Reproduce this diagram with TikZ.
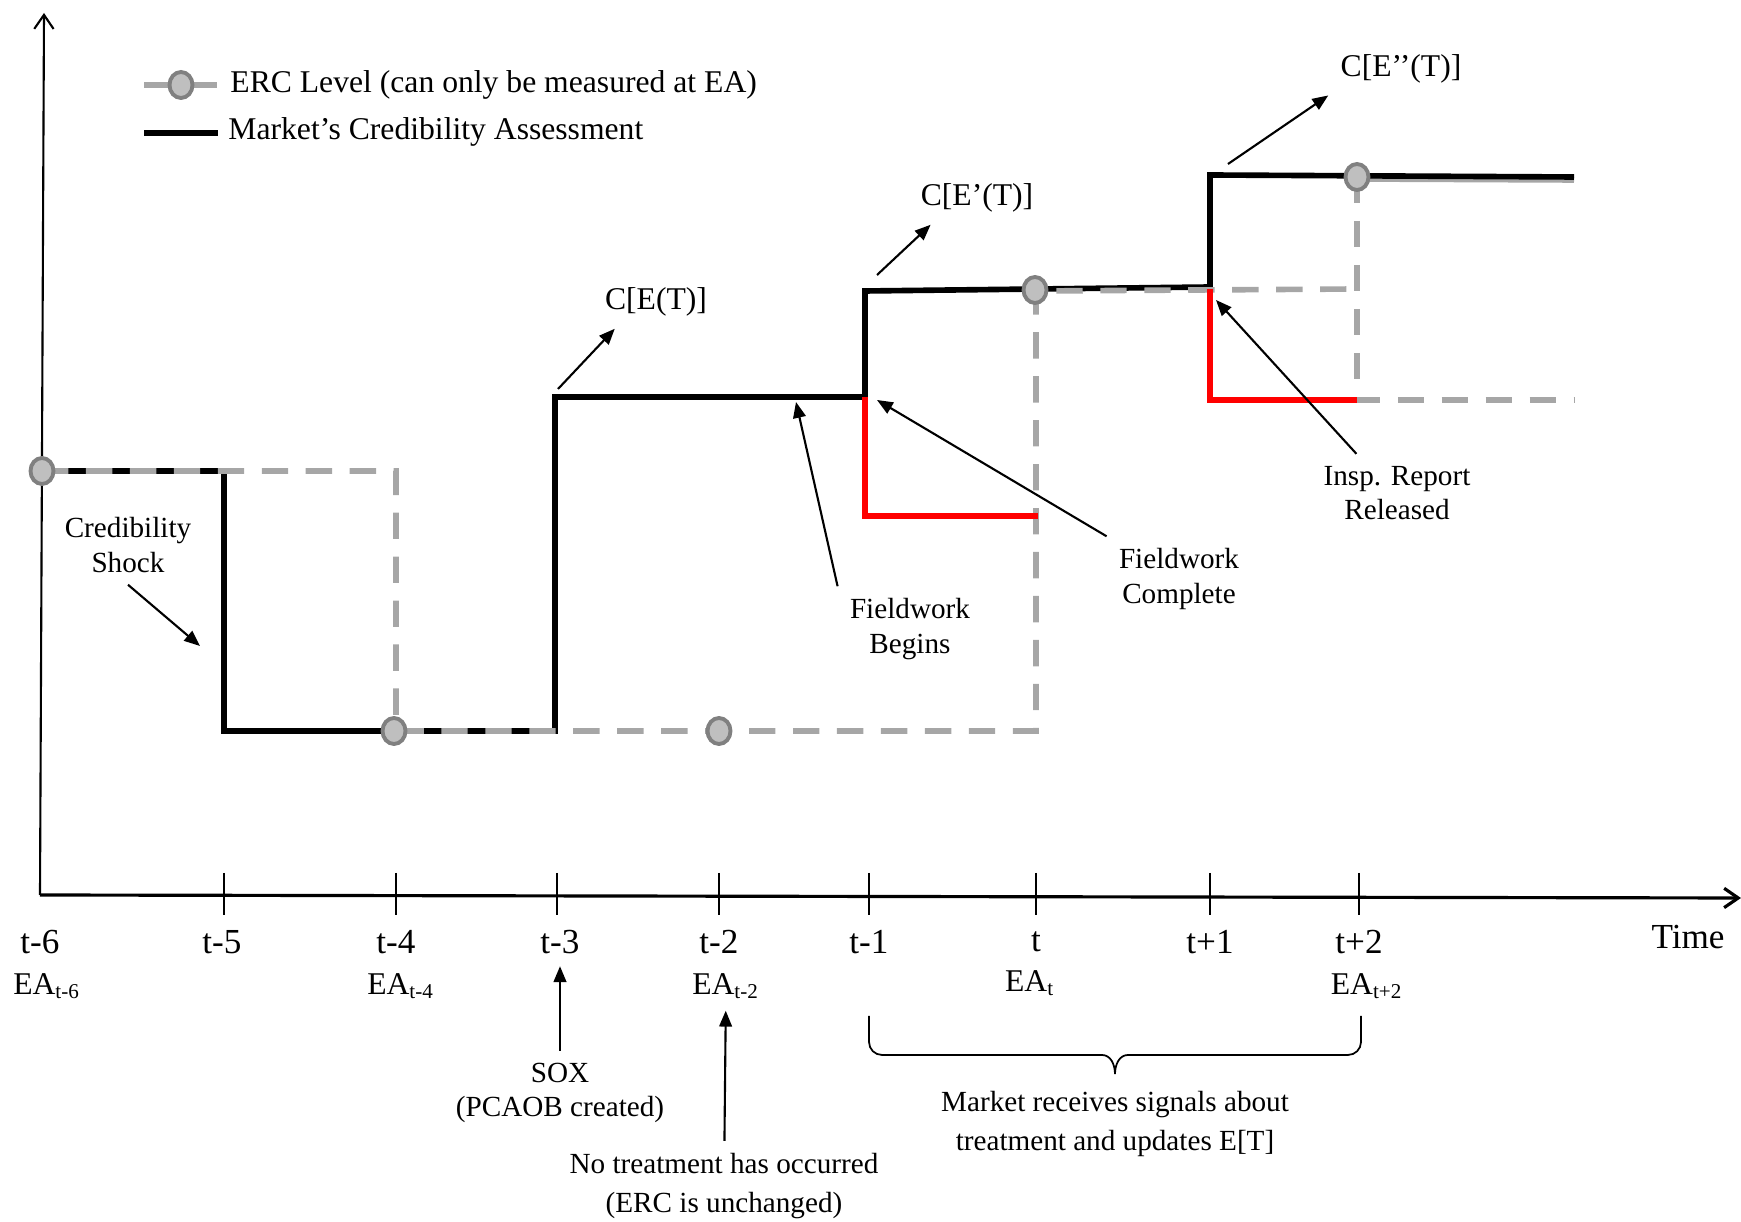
\documentclass[tikz,border=0pt]{standalone}
\usepackage{fontspec}
\setmainfont{Liberation Serif}
\usetikzlibrary{arrows.meta,shapes.geometric}
\definecolor{ercgray}{RGB}{166,166,166}
\definecolor{ercfill}{RGB}{191,191,191}
\definecolor{ercedge}{RGB}{128,128,128}
\definecolor{signalred}{RGB}{255,0,0}
\newcommand{\ea}[1]{EA\textsubscript{#1}}

\begin{document}
\begin{tikzpicture}[x=0.01cm, y=-0.01cm,
        axis/.style={line width=0.6pt,-{Straight Barb[length=4pt,width=5.5pt]}},
        tickmark/.style={line width=0.7pt},
        mkt/.style={line width=1.6pt},
        erc/.style={draw=ercgray,line width=1.6pt,dash pattern=on 7.5pt off 5pt},
        shiftline/.style={draw=signalred,line width=1.6pt},
        ercdot/.style={ellipse,draw=ercedge,fill=ercfill,line width=1.1pt,
          minimum width=0.23cm,minimum height=0.26cm,inner sep=0pt},
        note/.style={-{Triangle[length=4.5pt,width=3.6pt]},line width=0.6pt},
        lbl/.style={font=\fontsize{8.3}{9.7}\selectfont,align=center},
        lblwide/.style={font=\fontsize{8.3}{11}\selectfont,align=center},
        big/.style={font=\fontsize{9}{11}\selectfont},
        ticklbl/.style={font=\fontsize{10}{12}\selectfont}]
        \useasboundingbox (0,0) rectangle (1741,1222);
        \coordinate (origin) at (40,895);
        \coordinate (ytop) at (44,13);
        \coordinate (xend) at (1741,898);
        \draw[axis] (origin) -- (ytop);
        \draw[axis,line width=0.9pt] (origin) -- (xend);
        \foreach \x in {224,396,557,719,869,1036,1210,1359}
          \draw[tickmark] (\x,873) -- (\x,915);
        \foreach \x/\n/\s in {40/m6/t-6,222/m5/t-5,396/m4/t-4,560/m3/t-3,719/m2/t-2,
            869/m1/t-1,1036/z/t,1210/p1/t+1,1359/p2/t+2}
          \node[ticklbl] (l\n) at (\x,942) {\s};
        \node[ticklbl] (time) at (1688,937) {Time};
        \node[big] (eam6) at (47,986) {\ea{t-6}};
        \node[big] (eam4) at (401,986) {\ea{t-4}};
        \node[big] (eam2) at (726,986) {\ea{t-2}};
        \node[big] (eaz) at (1030,983) {\ea{t}};
        \node[big] (eap2) at (1367,986) {\ea{t+2}};

        \draw[draw=ercgray,line width=1.7pt] (144,85) -- (217,85);
        \node[ercdot] (legdot) at (181,85) {};
        \node[big,anchor=west] (legerc) at (218,85) {ERC Level (can only be measured at EA)};
        \draw[line width=1.8pt] (144,133) -- (218,133);
        \node[big,anchor=west] (legmkt) at (216,132) {Market’s Credibility Assessment};

        \draw[draw=ercgray,line width=1.6pt] (1357,179) -- (1574,180);
        \draw[mkt] (42,471) -- (224,471) -- (224,731) -- (555,731) -- (555,397)
          -- (865,397) -- (865,291) -- (1210,287) -- (1210,175) -- (1574,177);
        \draw[erc] (42,471) -- (396,471) -- (396,731) -- (1036,731) -- (1036,291) -- (1357,289);
        \draw[erc] (1357,177) -- (1357,400) -- (1574,400);
        \draw[shiftline] (865,397) -- (865,516) -- (1038,516);
        \draw[shiftline] (1210,289) -- (1210,400) -- (1357,400);
        \foreach \x/\y/\n in {42/471/m6,394/731/m4,719/731/m2,1035/290/z,1357/177/p2}
          \node[ercdot] (d\n) at (\x,\y) {};

        \node[big] (cet) at (656,302) {C[E(T)]};
        \node[big] (cep) at (977,198) {C[E’(T)]};
        \node[big] (cepp) at (1401,69) {C[E’’(T)]};
        \coordinate (cet-tail) at (558,389);
        \coordinate (cep-tail) at (877,275);
        \coordinate (cepp-tail) at (1228,164);
        \draw[note] (cet-tail) -- (cet.-147);
        \draw[note] (cep-tail) -- (cep.-150);
        \draw[note] (cepp-tail) -- (cepp.-160);

        \node[lbl] (shock) at (128,545) {Credibility\\Shock};
        \node[lbl] (fwb) at (910,629) {Fieldwork\\Begins};
        \node[lbl] (fwc) at (1179,579) {Fieldwork\\Complete};
        \node[lbl] (insp) at (1397,493) {Insp. Report\\Released};
        \coordinate (shock-tip) at (200,646);
        \coordinate (fwb-tip) at (796,402);
        \coordinate (fwc-tip) at (877,400);
        \coordinate (insp-tip) at (1216,300);
        \draw[note] (shock.south) -- (shock-tip);
        \draw[note] (fwb.north west) -- (fwb-tip);
        \draw[note] (fwc.north west) -- (fwc-tip);
        \draw[note] (insp.136) -- (insp-tip);

        \node[lbl] (sox) at (560,1093) {SOX\\(PCAOB created)};
        \node[lblwide] (nt) at (724,1186) {No treatment has occurred\\(ERC is unchanged)};
        \node[lblwide] (mrs) at (1115,1124) {Market receives signals about\\treatment and updates E[T]};
        \draw[note] (sox) -- (lm3);
        \draw[note] (nt) -- (eam2);
        \draw[line width=0.5pt] (869,1016) -- (869,1042) to[out=-90,in=180] (882,1055)
          -- (1102,1055) to[out=0,in=90] (1115,1074) to[out=90,in=180] (1128,1055)
          -- (1348,1055) to[out=0,in=-90] (1361,1042) -- (1361,1016);
      \end{tikzpicture}
\end{document}
